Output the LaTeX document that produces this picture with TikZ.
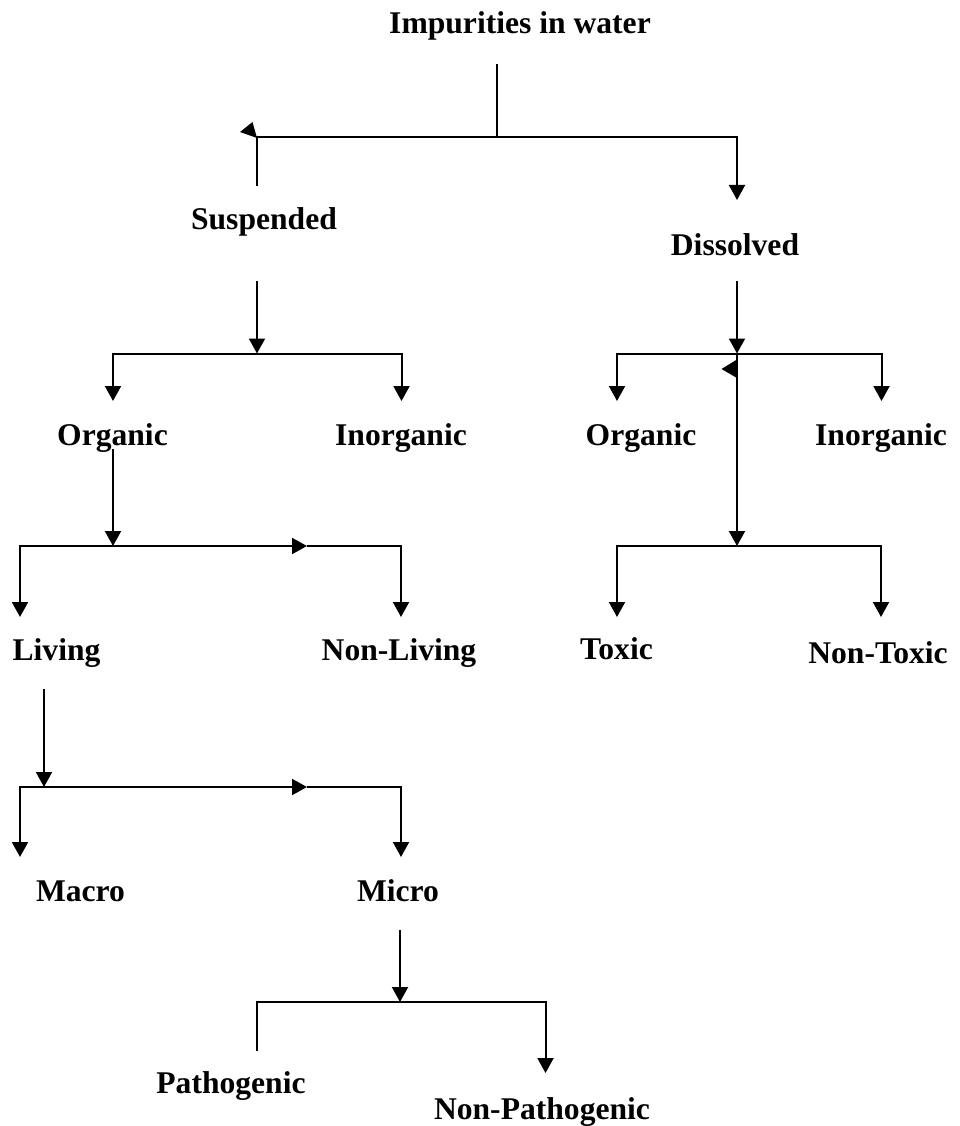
\documentclass[tikz,border=0pt]{standalone}
\usepackage{fontspec}
\setmainfont{Liberation Serif}
\usetikzlibrary{arrows.meta}
\begin{document}
\begin{tikzpicture}[x=1pt,y=-1pt,
  lbl/.style={font=\fontsize{31.6}{36}\selectfont\bfseries, anchor=base, inner sep=0pt},
  ln/.style={line width=2pt, line cap=rect, line join=miter},
  thin/.style={line width=1.5pt},
  arr/.style={ln,-{Triangle[width=16pt,length=15pt]}},
  tri/.style={fill=black}]
\useasboundingbox[fill=white] (0,0) rectangle (959,1126);

% text nodes
\node[lbl] (imp)  at (520,34)   {Impurities in water};
\node[lbl] (sus)  at (264,229)  {Suspended};
\node[lbl] (dis)  at (735,255)  {Dissolved};
\node[lbl] (orgS) at (112.5,445){Organic};
\node[lbl] (inoS) at (401,445)  {Inorganic};
\node[lbl] (orgD) at (641,445)  {Organic};
\node[lbl] (inoD) at (881,445)  {Inorganic};
\node[lbl] (liv)  at (56.5,660) {Living};
\node[lbl] (nliv) at (399,660)  {Non-Living};
\node[lbl] (tox)  at (616.5,659){Toxic};
\node[lbl] (ntox) at (878,663)  {Non-Toxic};
\node[lbl] (mac)  at (80.5,901) {Macro};
\node[lbl] (mic)  at (398,901)  {Micro};
\node[lbl] (pat)  at (231,1093) {Pathogenic};
\node[lbl] (npat) at (542,1119) {Non-Pathogenic};

% junction coordinates
\coordinate (impB) at (497,65);
\coordinate (j0)   at (497,137);
\coordinate (jL)   at (257,137);
\coordinate (jR)   at (737,137);
\coordinate (susT) at (257,185);
\coordinate (disT) at (737,200);

\coordinate (susB) at (257,282);
\coordinate (j1)   at (257,353.5);
\coordinate (j1L)  at (113,353.5);
\coordinate (j1R)  at (401.5,353.5);
\coordinate (orgST) at (113,401);
\coordinate (inoST) at (401.5,401);

\coordinate (disB) at (737,282);
\coordinate (j2)   at (737,353.5);
\coordinate (j2L)  at (617,353.5);
\coordinate (j2R)  at (881.5,353.5);
\coordinate (orgDT) at (617,401);
\coordinate (inoDT) at (881.5,401);

\coordinate (j3)   at (737,546);
\coordinate (j3L)  at (617,546);
\coordinate (j3R)  at (881,546);
\coordinate (toxT) at (617,617);
\coordinate (ntoxT) at (881,617);

\coordinate (orgSB) at (113,450);
\coordinate (j4)   at (113,546);
\coordinate (j4L)  at (20,546);
\coordinate (j4M)  at (307,546);
\coordinate (j4R)  at (401,546);
\coordinate (livT) at (20,617);
\coordinate (nlivT) at (401,617);

\coordinate (livB) at (44,690);
\coordinate (j5)   at (44,787);
\coordinate (j5L)  at (20,787);
\coordinate (j5M)  at (307,787);
\coordinate (j5R)  at (401,787);
\coordinate (macT) at (20,857);
\coordinate (micT) at (401,857);

\coordinate (micB) at (400,931);
\coordinate (j6)   at (400,1002);
\coordinate (j6L)  at (257,1002);
\coordinate (j6R)  at (545.5,1002);
\coordinate (patT) at (257,1050);
\coordinate (npatT) at (545.5,1073);

% level 1
\draw[ln] (impB) -- (j0);
\draw[ln] (jL) -- (jR);
\draw[ln] (susT) -- (jL);
\fill[tri] (240,132) -- (252.5,122) -- (257,138) -- cycle;
\draw[arr] (jR) -- (disT);

% suspended
\draw[arr] (susB) -- (j1);
\draw[ln] (j1L) -- (j1R);
\draw[arr] (j1L) -- (orgST);
\draw[arr] (j1R) -- (inoST);

% dissolved
\draw[arr] (disB) -- (j2);
\draw[ln] (j2L) -- (j2R);
\draw[arr] (j2L) -- (orgDT);
\draw[arr] (j2R) -- (inoDT);
\draw[arr] (j2) -- (j3);
\fill[tri] (721.5,369) -- (737,359.5) -- (737,378) -- cycle;
\draw[ln] (j3L) -- (j3R);
\draw[arr] (j3L) -- (toxT);
\draw[arr] (j3R) -- (ntoxT);

% organic
\draw[arr] (orgSB) -- (j4);
\draw[arr] (j4L) -- (j4M);
\draw[thin] (j4M) -- (j4R);
\draw[arr] (j4L) -- (livT);
\draw[arr] (j4R) -- (nlivT);

% living
\draw[arr] (livB) -- (j5);
\draw[arr] (j5L) -- (j5M);
\draw[thin] (j5M) -- (j5R);
\draw[arr] (j5L) -- (macT);
\draw[arr] (j5R) -- (micT);

% micro
\draw[arr] (micB) -- (j6);
\draw[ln] (j6L) -- (j6R);
\draw[ln] (j6L) -- (patT);
\draw[arr] (j6R) -- (npatT);
\end{tikzpicture}
\end{document}
